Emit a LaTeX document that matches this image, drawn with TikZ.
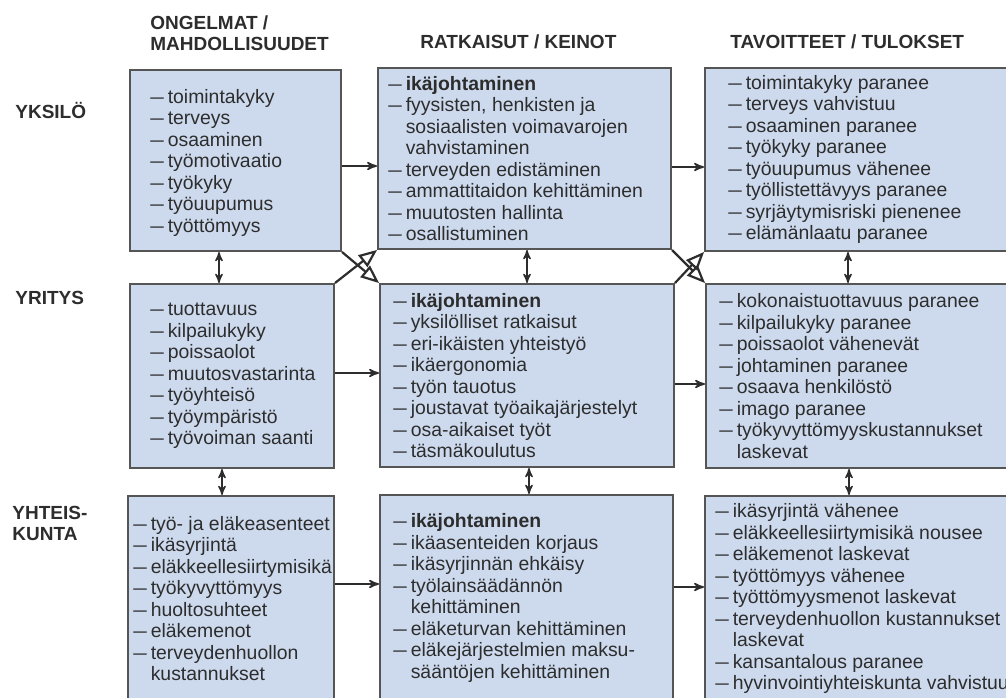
\documentclass[tikz,border=0pt]{standalone}
\usepackage{fontspec}
\setmainfont{Liberation Sans}
\usetikzlibrary{arrows}
\definecolor{boxfill}{RGB}{205,218,238}
\definecolor{boxline}{RGB}{85,85,85}
\definecolor{ink}{RGB}{45,45,45}
\newcommand{\dsh}{\scalebox{1.25}[1]{–}\hspace{0.2em}}
\newcommand{\ind}{\hphantom{\dsh}}

\begin{document}
\begin{tikzpicture}[x=0.5pt,y=-0.5pt,>=stealth',
  box/.style={draw=boxline,fill=boxfill,line width=1pt,anchor=north west,inner sep=0pt},
  items/.style={anchor=west,inner sep=0pt,align=left,text=ink,font=\fontsize{9.7}{10.75}\selectfont},
  head/.style={anchor=west,inner sep=0pt,align=left,text=ink,font=\bfseries\fontsize{9.5}{10.5}\selectfont},
  link/.style={->,draw=ink,line width=0.8pt},
  both/.style={<->,draw=ink,line width=0.7pt},
  cross/.style={-open triangle 45,draw=ink,line width=1.1pt}]
  \useasboundingbox (0,0) rectangle (1006,697);
  \clip (0,0) rectangle (1006,697);

  % column and row titles
  \node[head] (h1) at (150,33.5) {ONGELMAT /\\MAHDOLLISUUDET};
  \node[head] (h2) at (420,41.5) {RATKAISUT / KEINOT};
  \node[head] (h3) at (730,41.5) {TAVOITTEET / TULOKSET};
  \node[head] (yksilo) at (15,110) {YKSILÖ};
  \node[head] (yritys) at (15,298) {YRITYS};
  \node[head] (yhteis) at (12,523) {YHTEIS-\\KUNTA};

  % boxes
  \node[box,minimum width=105.5pt,minimum height=90.5pt] (l1) at (129,69) {};
  \node[box,minimum width=146.5pt,minimum height=90.5pt] (m1) at (377,67) {};
  \node[box,minimum width=155pt,minimum height=91.5pt]   (r1) at (704,67) {};
  \node[box,minimum width=102pt,minimum height=92pt]     (l2) at (129,283) {};
  \node[box,minimum width=147pt,minimum height=91.5pt]   (m2) at (379,283) {};
  \node[box,minimum width=154.5pt,minimum height=92pt]   (r2) at (705,283) {};
  \node[box,minimum width=103pt,minimum height=102.5pt]  (l3) at (127,495) {};
  \node[box,minimum width=146.5pt,minimum height=103pt]  (m3) at (379,494) {};
  \node[box,minimum width=155pt,minimum height=102.5pt]  (r3) at (704,495) {};

  \node[items] (l1t) at ([xshift=10.5pt,yshift=-1pt]l1.west) {\dsh toimintakyky\\\dsh terveys\\\dsh osaaminen\\\dsh työmotivaatio\\\dsh työkyky\\\dsh työuupumus\\\dsh työttömyys};
  \node[items] (m1t) at ([xshift=5.5pt]m1.west) {\dsh\textbf{ikäjohtaminen}\\\dsh fyysisten, henkisten ja\\\ind sosiaalisten voimavarojen\\\ind vahvistaminen\\\dsh terveyden edistäminen\\\dsh ammattitaidon kehittäminen\\\dsh muutosten hallinta\\\dsh osallistuminen};
  \node[items] (r1t) at ([xshift=12pt]r1.west) {\dsh toimintakyky paranee\\\dsh terveys vahvistuu\\\dsh osaaminen paranee\\\dsh työkyky paranee\\\dsh työuupumus vähenee\\\dsh työllistettävyys paranee\\\dsh syrjäytymisriski pienenee\\\dsh elämänlaatu paranee};

  \node[items] (l2t) at ([xshift=10.5pt]l2.west) {\dsh tuottavuus\\\dsh kilpailukyky\\\dsh poissaolot\\\dsh muutosvastarinta\\\dsh työyhteisö\\\dsh työympäristö\\\dsh työvoiman saanti};
  \node[items] (m2t) at ([xshift=7pt]m2.west) {\dsh\textbf{ikäjohtaminen}\\\dsh yksilölliset ratkaisut\\\dsh eri-ikäisten yhteistyö\\\dsh ikäergonomia\\\dsh työn tauotus\\\dsh joustavat työaikajärjestelyt\\\dsh osa-aikaiset työt\\\dsh täsmäkoulutus};
  \node[items] (r2t) at ([xshift=7pt]r2.west) {\dsh kokonaistuottavuus paranee\\\dsh kilpailukyky paranee\\\dsh poissaolot vähenevät\\\dsh johtaminen paranee\\\dsh osaava henkilöstö\\\dsh imago paranee\\\dsh työkyvyttömyyskustannukset\\\ind laskevat};

  \node[items] (l3t) at ([xshift=3pt]l3.west) {\dsh työ- ja eläkeasenteet\\\dsh ikäsyrjintä\\\dsh eläkkeellesiirtymisikä\\\dsh työkyvyttömyys\\\dsh huoltosuhteet\\\dsh eläkemenot\\\dsh terveydenhuollon\\\ind kustannukset};
  \node[items] (m3t) at ([xshift=7pt]m3.west) {\dsh\textbf{ikäjohtaminen}\\\dsh ikäasenteiden korjaus\\\dsh ikäsyrjinnän ehkäisy\\\dsh työlainsäädännön\\\ind kehittäminen\\\dsh eläketurvan kehittäminen\\\dsh eläkejärjestelmien maksu-\\\ind sääntöjen kehittäminen};
  \node[items] (r3t) at ([xshift=5.5pt]r3.west) {\dsh ikäsyrjintä vähenee\\\dsh eläkkeellesiirtymisikä nousee\\\dsh eläkemenot laskevat\\\dsh työttömyys vähenee\\\dsh työttömyysmenot laskevat\\\dsh terveydenhuollon kustannukset\\\ind laskevat\\\dsh kansantalous paranee\\\dsh hyvinvointiyhteiskunta vahvistuu};

  % left to right
  \draw[link] ([yshift=-2.75pt]l1.east) -- ([yshift=-2.75pt]l1.east -| m1.west);
  \draw[link] ([yshift=-4.25pt]m1.east) -- ([yshift=-4.25pt]m1.east -| r1.west);
  \draw[link] ([yshift=1.5pt]l2.east) -- ([yshift=1.5pt]l2.east -| m2.west);
  \draw[link] ([yshift=-4.25pt]m2.east) -- ([yshift=-4.25pt]m2.east -| r2.west);
  \draw[link] ([yshift=7.25pt]l3.east) -- ([yshift=7.25pt]l3.east -| m3.west);
  \draw[link] ([yshift=5.5pt]m3.east) -- ([yshift=5.5pt]m3.east -| r3.west);

  % between rows
  \draw[both] ([xshift=45pt]l1.south west) -- ([xshift=45pt]l1.south west |- l2.north);
  \draw[both] ([xshift=46.5pt]l2.south west) -- ([xshift=46.5pt]l2.south west |- l3.north);
  \draw[both] ([xshift=75pt]m1.south west) -- ([xshift=75pt]m1.south west |- m2.north);
  \draw[both] ([xshift=75pt]m2.south west) -- ([xshift=75pt]m2.south west |- m3.north);
  \draw[both] ([xshift=72pt]r1.south west) -- ([xshift=72pt]r1.south west |- r2.north);
  \draw[both] ([xshift=72pt]r2.south west) -- ([xshift=72pt]r2.south west |- r3.north);

  % crossing links
  \draw[cross] (l1.south east) -- (m2.north west);
  \draw[cross] (l2.north east) -- (m1.south west);
  \draw[cross] (m1.south east) -- (r2.north west);
  \draw[cross] (m2.north east) -- (r1.south west);
\end{tikzpicture}
\end{document}
